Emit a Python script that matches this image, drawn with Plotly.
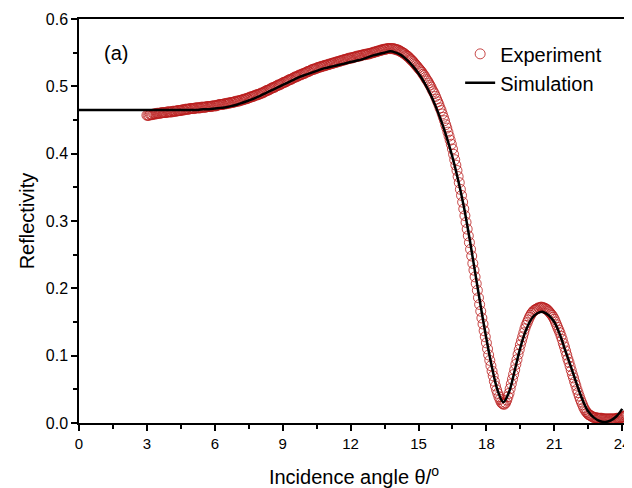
import numpy as np
import plotly.graph_objects as go

# simulated reflectivity, 0.25 deg grid from 0 to 24
sim_angle = np.round(np.arange(0, 24.001, 0.25), 2)
sim_refl = [
    0.465, 0.465, 0.465, 0.465, 0.465, 0.465, 0.465, 0.465,   # 0 - 1.75
    0.465, 0.465, 0.465, 0.465, 0.465, 0.465, 0.465, 0.465,   # 2 - 3.75
    0.465, 0.465, 0.465, 0.465, 0.465, 0.465, 0.466, 0.466,   # 4 - 5.75
    0.467, 0.468, 0.469, 0.471, 0.473, 0.476, 0.479, 0.482,   # 6 - 7.75
    0.486, 0.490, 0.494, 0.498, 0.502, 0.506, 0.510, 0.514,   # 8 - 9.75
    0.517, 0.520, 0.523, 0.526, 0.528, 0.530, 0.532, 0.534,   # 10 - 11.75
    0.536, 0.538, 0.540, 0.543, 0.546, 0.548, 0.550, 0.552,   # 12 - 13.75
    0.550, 0.546, 0.539, 0.530, 0.519, 0.506, 0.490, 0.471,   # 14 - 15.75
    0.449, 0.424, 0.395, 0.361, 0.322, 0.275, 0.224, 0.173,   # 16 - 17.75
    0.125, 0.082, 0.048, 0.031, 0.046, 0.078, 0.112, 0.138,   # 18 - 19.75
    0.155, 0.163, 0.165, 0.160, 0.150, 0.131, 0.106, 0.082,   # 20 - 21.75
    0.057, 0.034, 0.017, 0.008, 0.003, 0.0015, 0.004, 0.010,  # 22 - 23.75
    0.021,                                                    # 24
]

# measured reflectivity, 0.05 deg grid from 3.00 to 24.20
exp_angle = np.round(np.arange(3.0, 24.2001, 0.05), 2)
exp_refl = [
    # 3.00 - 3.95
    0.457, 0.457, 0.457, 0.458, 0.458, 0.458, 0.459, 0.459, 0.459, 0.460,
    0.460, 0.460, 0.460, 0.461, 0.461, 0.461, 0.461, 0.461, 0.462, 0.462,
    # 4
    0.462, 0.462, 0.462, 0.463, 0.463, 0.463, 0.463, 0.464, 0.464, 0.464,
    0.464, 0.465, 0.465, 0.465, 0.466, 0.466, 0.466, 0.466, 0.467, 0.467,
    # 5
    0.467, 0.467, 0.467, 0.468, 0.468, 0.468, 0.468, 0.468, 0.469, 0.469,
    0.469, 0.469, 0.469, 0.470, 0.470, 0.470, 0.470, 0.470, 0.471, 0.471,
    # 6
    0.471, 0.471, 0.472, 0.472, 0.473, 0.473, 0.473, 0.473, 0.474, 0.474,
    0.474, 0.475, 0.475, 0.475, 0.476, 0.476, 0.476, 0.477, 0.477, 0.478,
    # 7
    0.478, 0.478, 0.479, 0.479, 0.480, 0.480, 0.481, 0.481, 0.482, 0.482,
    0.483, 0.484, 0.484, 0.485, 0.485, 0.486, 0.487, 0.487, 0.488, 0.488,
    # 8
    0.489, 0.490, 0.490, 0.491, 0.492, 0.493, 0.494, 0.494, 0.495, 0.496,
    0.497, 0.498, 0.498, 0.499, 0.500, 0.501, 0.502, 0.502, 0.503, 0.504,
    # 9
    0.505, 0.506, 0.506, 0.507, 0.508, 0.509, 0.510, 0.510, 0.511, 0.512,
    0.513, 0.514, 0.514, 0.515, 0.516, 0.517, 0.517, 0.518, 0.519, 0.519,
    # 10
    0.520, 0.521, 0.522, 0.522, 0.523, 0.524, 0.525, 0.525, 0.526, 0.526,
    0.527, 0.528, 0.528, 0.529, 0.529, 0.530, 0.530, 0.531, 0.531, 0.532,
    # 11
    0.532, 0.533, 0.533, 0.534, 0.534, 0.535, 0.535, 0.536, 0.536, 0.537,
    0.537, 0.538, 0.538, 0.539, 0.539, 0.540, 0.540, 0.541, 0.541, 0.542,
    # 12
    0.542, 0.542, 0.543, 0.543, 0.544, 0.544, 0.545, 0.545, 0.545, 0.546,
    0.546, 0.547, 0.547, 0.547, 0.548, 0.548, 0.548, 0.549, 0.549, 0.550,
    # 13
    0.550, 0.551, 0.551, 0.552, 0.552, 0.553, 0.553, 0.554, 0.554, 0.555,
    0.555, 0.555, 0.556, 0.556, 0.556, 0.556, 0.556, 0.556, 0.556, 0.555,
    # 14
    0.555, 0.554, 0.554, 0.553, 0.552, 0.551, 0.550, 0.549, 0.548, 0.546,
    0.545, 0.544, 0.542, 0.540, 0.539, 0.537, 0.535, 0.533, 0.531, 0.529,
    # 15
    0.527, 0.525, 0.523, 0.521, 0.518, 0.516, 0.513, 0.510, 0.508, 0.505,
    0.502, 0.499, 0.495, 0.492, 0.489, 0.485, 0.481, 0.477, 0.473, 0.468,
    # 16
    0.464, 0.459, 0.454, 0.449, 0.443, 0.438, 0.432, 0.426, 0.420, 0.414,
    0.407, 0.399, 0.391, 0.383, 0.375, 0.366, 0.357, 0.347, 0.338, 0.328,
    # 17
    0.318, 0.308, 0.298, 0.288, 0.278, 0.268, 0.258, 0.248, 0.237, 0.227,
    0.217, 0.207, 0.197, 0.186, 0.176, 0.166, 0.156, 0.147, 0.137, 0.128,
    # 18
    0.119, 0.110, 0.101, 0.093, 0.085, 0.077, 0.070, 0.062, 0.055, 0.049,
    0.044, 0.039, 0.035, 0.031, 0.029, 0.028, 0.028, 0.030, 0.034, 0.039,
    # 19
    0.044, 0.051, 0.058, 0.065, 0.072, 0.079, 0.087, 0.094, 0.102, 0.109,
    0.116, 0.122, 0.128, 0.134, 0.140, 0.145, 0.149, 0.153, 0.157, 0.160,
    # 20
    0.163, 0.165, 0.167, 0.168, 0.169, 0.170, 0.171, 0.171, 0.172, 0.172,
    0.171, 0.171, 0.170, 0.169, 0.168, 0.166, 0.164, 0.162, 0.160, 0.157,
    # 21
    0.154, 0.150, 0.146, 0.142, 0.138, 0.134, 0.129, 0.124, 0.118, 0.113,
    0.107, 0.101, 0.095, 0.090, 0.084, 0.078, 0.072, 0.067, 0.061, 0.056,
    # 22
    0.050, 0.045, 0.040, 0.035, 0.031, 0.027, 0.023, 0.020, 0.017, 0.015,
    0.013, 0.012, 0.011, 0.010, 0.009, 0.008, 0.008, 0.008, 0.007, 0.007,
    # 23
    0.007, 0.007, 0.007, 0.006, 0.006, 0.006, 0.006, 0.006, 0.006, 0.006,
    0.006, 0.006, 0.006, 0.006, 0.006, 0.007, 0.007, 0.007, 0.007, 0.008,
    # 24.00 - 24.20
    0.009, 0.009, 0.010, 0.011, 0.012,
]

FONT = "Arial, Liberation Sans, sans-serif"

fig = go.Figure()
fig.add_trace(go.Scatter(x=exp_angle, y=exp_refl, mode="markers", name="Experiment",
                         marker=dict(symbol="circle-open", size=10,
                                     color="rgba(185,28,28,0.8)",
                                     line=dict(width=1))))
fig.add_trace(go.Scatter(x=sim_angle, y=sim_refl, mode="lines", name="Simulation",
                         line=dict(color="black", width=2.5, shape="spline")))

fig.add_annotation(text="(a)", xref="paper", yref="paper", x=0.042, y=0.915,
                   xanchor="left", yanchor="middle", showarrow=False,
                   font=dict(size=20, color="black", family=FONT))

# page body has an 8px margin, so the figure is 8px smaller than the window
fig.update_layout(
    width=624, height=480,
    margin=dict(l=71, r=3, t=11, b=65),
    paper_bgcolor="white", plot_bgcolor="white",
    font=dict(family=FONT, color="black"),
    showlegend=True,
    legend=dict(x=0.693, y=0.962, xanchor="left", yanchor="top",
                bgcolor="rgba(0,0,0,0)", font=dict(size=20), tracegroupgap=0),
)

fig.update_xaxes(
    range=[0, 24.3], tick0=0, dtick=3, automargin=False, ticklabeloverflow="allow",
    showline=True, linecolor="black", linewidth=1.5, mirror=True,
    ticks="outside", ticklen=6, tickwidth=1.5, tickcolor="black",
    minor=dict(dtick=1.5, ticks="outside", ticklen=4, tickwidth=1.5, tickcolor="black"),
    showgrid=False, zeroline=False,
    tickfont=dict(size=15),
    title=dict(text="Incidence angle θ/<sup>o</sup>", font=dict(size=20), standoff=22),
)
fig.update_yaxes(
    range=[0, 0.6], tick0=0, dtick=0.1, tickformat=".1f", automargin=False,
    showline=True, linecolor="black", linewidth=1.5, mirror=True,
    ticks="outside", ticklen=6, tickwidth=1.5, tickcolor="black",
    minor=dict(dtick=0.05, ticks="outside", ticklen=4, tickwidth=1.5, tickcolor="black"),
    showgrid=False, zeroline=False,
    tickfont=dict(size=16),
    title=dict(text="Reflectivity", font=dict(size=20), standoff=6),
)

fig.write_html("out.html")
